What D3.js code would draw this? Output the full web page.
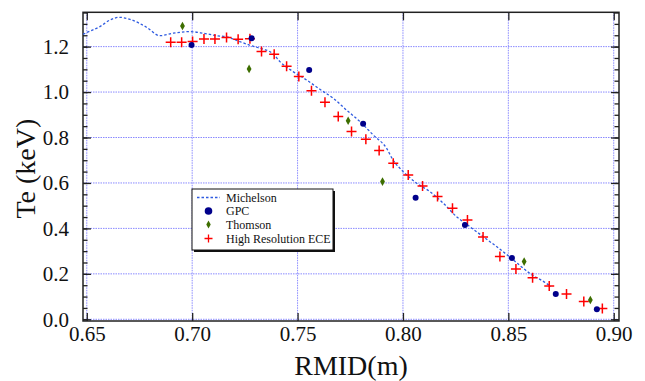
<!DOCTYPE html>
<html>
<head>
<meta charset="utf-8">
<script src="https://cdn.jsdelivr.net/npm/d3@7"></script>
<style>
  html, body { margin: 0; padding: 0; background: #fff; }
  svg { display: block; }
  svg text { font-family: "Liberation Serif", "Times New Roman", serif !important; fill: #111; }
</style>
</head>
<body>
<svg id="chart" width="645" height="381"></svg>
<script>
// ---------- data ----------
const xTicks = [0.65, 0.70, 0.75, 0.80, 0.85, 0.90];
const yTicks = [0.0, 0.2, 0.4, 0.6, 0.8, 1.0, 1.2];
const yMinorTicks = d3.range(0, 1.351, 0.05);

const michelsonR  = [0.6482,0.650,0.6562,0.6610,0.6654,0.6705,0.6784,0.6847,0.6910,0.6989,0.7052,0.7116,0.7163,0.7226,0.7274,0.7321,0.7384,0.7416,0.7479,0.7543,0.7606,0.7669,0.7732,0.7796,0.7859,0.7922,0.7953,0.8001,0.8065,0.8128,0.8191,0.8254,0.8317,0.8380,0.8444,0.8507,0.8602,0.8681,0.8702];
const michelsonTe = [1.254,1.262,1.288,1.317,1.329,1.320,1.285,1.248,1.259,1.266,1.259,1.248,1.243,1.222,1.206,1.193,1.168,1.134,1.090,1.053,1.012,0.973,0.921,0.870,0.811,0.753,0.701,0.650,0.599,0.562,0.511,0.452,0.408,0.364,0.320,0.274,0.202,0.158,0.144];

const gpcR  = [0.6997,0.7282,0.7555,0.7811,0.8060,0.8294,0.8517,0.8725,0.8920];
const gpcTe = [1.207,1.237,1.097,0.860,0.535,0.415,0.270,0.111,0.044];

const thomsonR  = [0.6954,0.7270,0.7740,0.7903,0.8575,0.8889];
const thomsonTe = [1.291,1.102,0.874,0.606,0.254,0.085];

const eceR  = [0.6898,0.6950,0.7002,0.7056,0.7108,0.7163,0.7218,0.7274,0.7329,0.7389,0.7448,0.7506,0.7566,0.7630,0.7693,0.7756,0.7824,0.7887,0.7954,0.8025,0.8093,0.8164,0.8235,0.8306,0.8380,0.8460,0.8536,0.8615,0.8694,0.8776,0.8858,0.8946];
const eceTe = [1.219,1.219,1.222,1.234,1.234,1.240,1.232,1.235,1.178,1.166,1.114,1.068,1.006,0.955,0.892,0.826,0.792,0.743,0.687,0.635,0.587,0.540,0.489,0.437,0.362,0.276,0.221,0.183,0.147,0.111,0.078,0.048];

const legendLabels = ["Michelson", "GPC", "Thomson", "High Resolution ECE"];

// ---------- layout ----------
const L = 83, R = 619, T = 12.3, B = 321;
const serif = '"Liberation Serif", "Times New Roman", serif';
const svg = d3.select("#chart");
const x = d3.scaleLinear().domain([0.6482, 0.9025]).range([L, R]);
const y = d3.scaleLinear().domain([-0.0075, 1.351]).range([B, T]);

const navy = "#00008b", green = "#3d6e00", red = "#ff0000", blue = "#2f5be0", gridC = "#8a8aff";

// grid
svg.append("g").selectAll("line").data(xTicks).join("line")
  .attr("x1", d => x(d)).attr("x2", d => x(d)).attr("y1", T).attr("y2", B)
  .attr("stroke", gridC).attr("stroke-width", 1).attr("stroke-dasharray", "1.5,1");
svg.append("g").selectAll("line").data(yTicks).join("line")
  .attr("x1", L).attr("x2", R).attr("y1", d => y(d)).attr("y2", d => y(d))
  .attr("stroke", gridC).attr("stroke-width", 1).attr("stroke-dasharray", "1.5,1");

// axes with d3 axis generators (inward ticks)
const fmt = d3.format(".2f");
const axB = svg.append("g").attr("transform", `translate(0,${B})`)
  .call(d3.axisBottom(x).tickValues(xTicks).tickSizeInner(-8).tickSizeOuter(0).tickPadding(12).tickFormat(fmt));
const axT = svg.append("g").attr("transform", `translate(0,${T})`)
  .call(d3.axisTop(x).tickValues(xTicks).tickSizeInner(-8).tickSizeOuter(0).tickFormat(""));
const axL = svg.append("g").attr("transform", `translate(${L},0)`)
  .call(d3.axisLeft(y).tickValues(yTicks).tickSizeInner(-8).tickSizeOuter(0).tickPadding(14).tickFormat(d3.format(".1f")));
const axLm = svg.append("g").attr("transform", `translate(${L},0)`)
  .call(d3.axisLeft(y).tickValues(yMinorTicks).tickSizeInner(-4.5).tickSizeOuter(0).tickFormat(""));
const axR = svg.append("g").attr("transform", `translate(${R},0)`)
  .call(d3.axisRight(y).tickValues(yTicks).tickSizeInner(-8).tickSizeOuter(0).tickFormat(""));
const axRm = svg.append("g").attr("transform", `translate(${R},0)`)
  .call(d3.axisRight(y).tickValues(yMinorTicks).tickSizeInner(-4.5).tickSizeOuter(0).tickFormat(""));
[axB, axT, axL, axLm, axR, axRm].forEach(g => {
  g.attr("font-family", serif).attr("font-size", 21);
  g.select(".domain").remove();
  g.selectAll(".tick line").attr("stroke", "#222").attr("stroke-width", 1.3);
  g.selectAll(".tick text").style("font-family", serif).style("font-size", "21px").attr("fill", "#111");
});
axB.selectAll(".tick text").attr("dy", "0.71em").attr("y", 5);

// frame
svg.append("rect").attr("x", L).attr("y", T).attr("width", R - L).attr("height", B - T)
  .attr("fill", "none").attr("stroke", "#222").attr("stroke-width", 1.5);

// Michelson line
const mData = michelsonR.map((r, i) => [r, michelsonTe[i]]);
svg.append("path").datum(mData)
  .attr("d", d3.line().x(d => x(d[0])).y(d => y(d[1])).curve(d3.curveMonotoneX))
  .attr("fill", "none").attr("stroke", blue).attr("stroke-width", 1.3).attr("stroke-dasharray", "2.5,2");

// ECE plus
const plus = s => `M${-s},0H${s}M0,${-s}V${s}`;
svg.append("g").selectAll("path").data(eceR.map((r, i) => [r, eceTe[i]])).join("path")
  .attr("transform", d => `translate(${x(d[0])},${y(d[1])})`)
  .attr("d", plus(5)).attr("stroke", red).attr("stroke-width", 1.5).attr("fill", "none");

// Thomson diamonds
const diamond = (w, h) => `M0,${-h}L${w},0L0,${h}L${-w},0Z`;
svg.append("g").selectAll("path").data(thomsonR.map((r, i) => [r, thomsonTe[i]])).join("path")
  .attr("transform", d => `translate(${x(d[0])},${y(d[1])})`)
  .attr("d", diamond(2.4, 4.3)).attr("fill", green);

// GPC circles
svg.append("g").selectAll("circle").data(gpcR.map((r, i) => [r, gpcTe[i]])).join("circle")
  .attr("cx", d => x(d[0])).attr("cy", d => y(d[1])).attr("r", 3).attr("fill", navy);

// axis titles
svg.append("text").attr("x", (L + R) / 2).attr("y", 375).attr("text-anchor", "middle")
  .style("font-family", serif).attr("font-size", 28).text("RMID(m)");
svg.append("text").attr("transform", `translate(35,${(T + B) / 2 + 2}) rotate(-90)`).attr("text-anchor", "middle")
  .style("font-family", serif).attr("font-size", 28).text("Te (keV)");

// legend
const lg = svg.append("g");
const lx = 192, ly = 189, lw = 141, lh = 61;
lg.append("rect").attr("x", lx + 2).attr("y", ly + 2).attr("width", lw).attr("height", lh).attr("fill", "#111");
lg.append("rect").attr("x", lx).attr("y", ly).attr("width", lw).attr("height", lh)
  .attr("fill", "#fff").attr("stroke", "#111").attr("stroke-width", 1);
const rowY = [197.5, 211, 224.5, 238.5];
lg.append("line").attr("x1", 197).attr("x2", 220).attr("y1", rowY[0]).attr("y2", rowY[0])
  .attr("stroke", blue).attr("stroke-width", 1.3).attr("stroke-dasharray", "2.5,2");
lg.append("circle").attr("cx", 208.5).attr("cy", rowY[1]).attr("r", 3.8).attr("fill", navy);
lg.append("path").attr("transform", `translate(208.5,${rowY[2]})`).attr("d", diamond(2.2, 4)).attr("fill", green);
lg.append("path").attr("transform", `translate(208.5,${rowY[3]})`).attr("d", plus(4)).attr("stroke", red).attr("stroke-width", 1.3);
lg.selectAll("text").data(legendLabels).join("text")
  .attr("x", 226).attr("y", (d, i) => rowY[i] + 4).style("font-family", serif).attr("font-size", 12).text(d => d);
</script>
</body>
</html>
